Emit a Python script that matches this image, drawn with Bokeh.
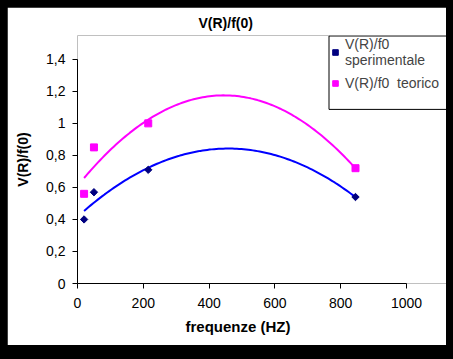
import numpy as np
from bokeh.plotting import figure
from bokeh.models import (Range1d, FixedTicker, CustomJSTickFormatter, Legend, LegendItem, Title)
from bokeh.embed import file_html
from bokeh.resources import INLINE

# ---- data ----
freq = [20, 50, 215, 845]
sperimentale = [0.40, 0.57, 0.71, 0.54]
teorico = [0.56, 0.85, 1.00, 0.72]

x_ticks = [0, 200, 400, 600, 800, 1000]
x_tick_labels = ["0", "200", "400", "600", "800", "1000"]
y_ticks = [0, 0.2, 0.4, 0.6, 0.8, 1.0, 1.2, 1.4]
y_tick_labels = ["0", "0,2", "0,4", "0,6", "0,8", "1", "1,2", "1,4"]

title_text = "V(R)/f(0)"
x_label = "frequenze (HZ)"
y_label = "V(R)/f(0)"
label_sper = "V(R)/f0\nsperimentale"
label_teor = "V(R)/f0  teorico"

FONT = "Liberation Sans"

# ---- layout geometry (canvas pixels) ----
W, H = 439, 338
FL, FT, FB = 70, 26, 276          # frame left / top / bottom
X_AXIS_LEN = 329                   # pixels for 0..1000
Y_AXIS_LEN = 226                   # pixels for 0..1.4
x_end = 1000 * (W - FL) / X_AXIS_LEN
y_end = 1.4 * (FB - FT) / Y_AXIS_LEN

def cx(px):  # canvas x pixel -> x value
    return (px - FL) / X_AXIS_LEN * 1000
def cy(py):  # canvas y pixel -> y value
    return (FB - py) / Y_AXIS_LEN * 1.4

p = figure(width=W, height=H, output_backend="svg", toolbar_location=None,
           x_range=Range1d(0, x_end), y_range=Range1d(0, y_end),
           min_border_left=FL, min_border_right=0, min_border_top=FT, min_border_bottom=H - FB)
p.background_fill_color = "white"
p.border_fill_color = "white"
p.outline_line_color = None
p.grid.visible = False

# frame of the legend box (its right side runs off the chart, as in the original)
p.quad(left=[cx(321.5)], right=[cx(W + 30)], top=[cy(26.5)], bottom=[cy(100.5)],
       fill_color=None, line_color="black", line_width=1)

# polynomial (order 2) trend lines, as in the original spreadsheet chart
xs = np.linspace(min(freq), max(freq), 120)
fit_s = np.polyfit(freq, sperimentale, 2)
fit_t = np.polyfit(freq, teorico, 2)
p.line(xs, np.polyval(fit_s, xs), line_color="#0000FF", line_width=2)
p.line(xs, np.polyval(fit_t, xs), line_color="#FF00FF", line_width=2)

r_s = p.scatter(freq, sperimentale, marker="square", angle=np.pi / 4, size=5.2,
                fill_color="#000080", line_color="#000080")
r_t = p.scatter(freq, teorico, marker="square", size=7, fill_color="#FF00FF", line_color="#FF00FF")

def fmt(tv, tl):
    return CustomJSTickFormatter(args=dict(tvals=tv, tlabels=tl), code="""
        let best = 0, d = 1e99;
        for (let i = 0; i < tvals.length; i++) {
            const dd = Math.abs(tvals[i] - tick);
            if (dd < d) { d = dd; best = i; }
        }
        return tlabels[best];
    """)

for ax, tv, tl in ((p.xaxis[0], x_ticks, x_tick_labels), (p.yaxis[0], y_ticks, y_tick_labels)):
    ax.ticker = FixedTicker(ticks=tv)
    ax.formatter = fmt(tv, tl)
    ax.bounds = (tv[0], tv[-1])
    ax.minor_tick_line_color = None
    ax.major_tick_in = 0
    ax.major_tick_out = 5
    ax.axis_line_color = "black"
    ax.major_tick_line_color = "black"
    ax.major_label_text_font = FONT
    ax.major_label_text_font_size = "14px"
    ax.major_label_text_color = "black"
    ax.axis_label_text_font = FONT
    ax.axis_label_text_font_size = "14px"
    ax.axis_label_text_font_style = "bold"
    ax.axis_label_text_color = "black"

p.xaxis[0].major_label_standoff = 9
p.yaxis[0].axis_label = y_label
p.yaxis[0].major_label_standoff = 7
p.yaxis[0].axis_label_standoff = 12

p.title = Title(text=title_text, align="left", offset=121, text_font=FONT,
                text_font_size="14px", text_font_style="bold", text_color="black")
p.add_layout(Title(text=x_label, align="left", offset=108, text_font=FONT,
                   text_font_size="15px", text_font_style="bold", text_color="black"), "below")

legend = Legend(items=[LegendItem(label=label_sper, renderers=[r_s]),
                       LegendItem(label=label_teor, renderers=[r_t])],
                location=(251, 192), border_line_color=None, background_fill_alpha=0,
                label_text_font=FONT, label_text_font_size="14px", label_text_line_height=0.8,
                glyph_width=14, glyph_height=14, label_standoff=3, label_width=110,
                padding=0, spacing=7, margin=0)
p.add_layout(legend, "center")

html = file_html(p, INLINE).replace("<body>", '<body style="background:black; padding:7px">')
open("out.html", "w").write(html)
